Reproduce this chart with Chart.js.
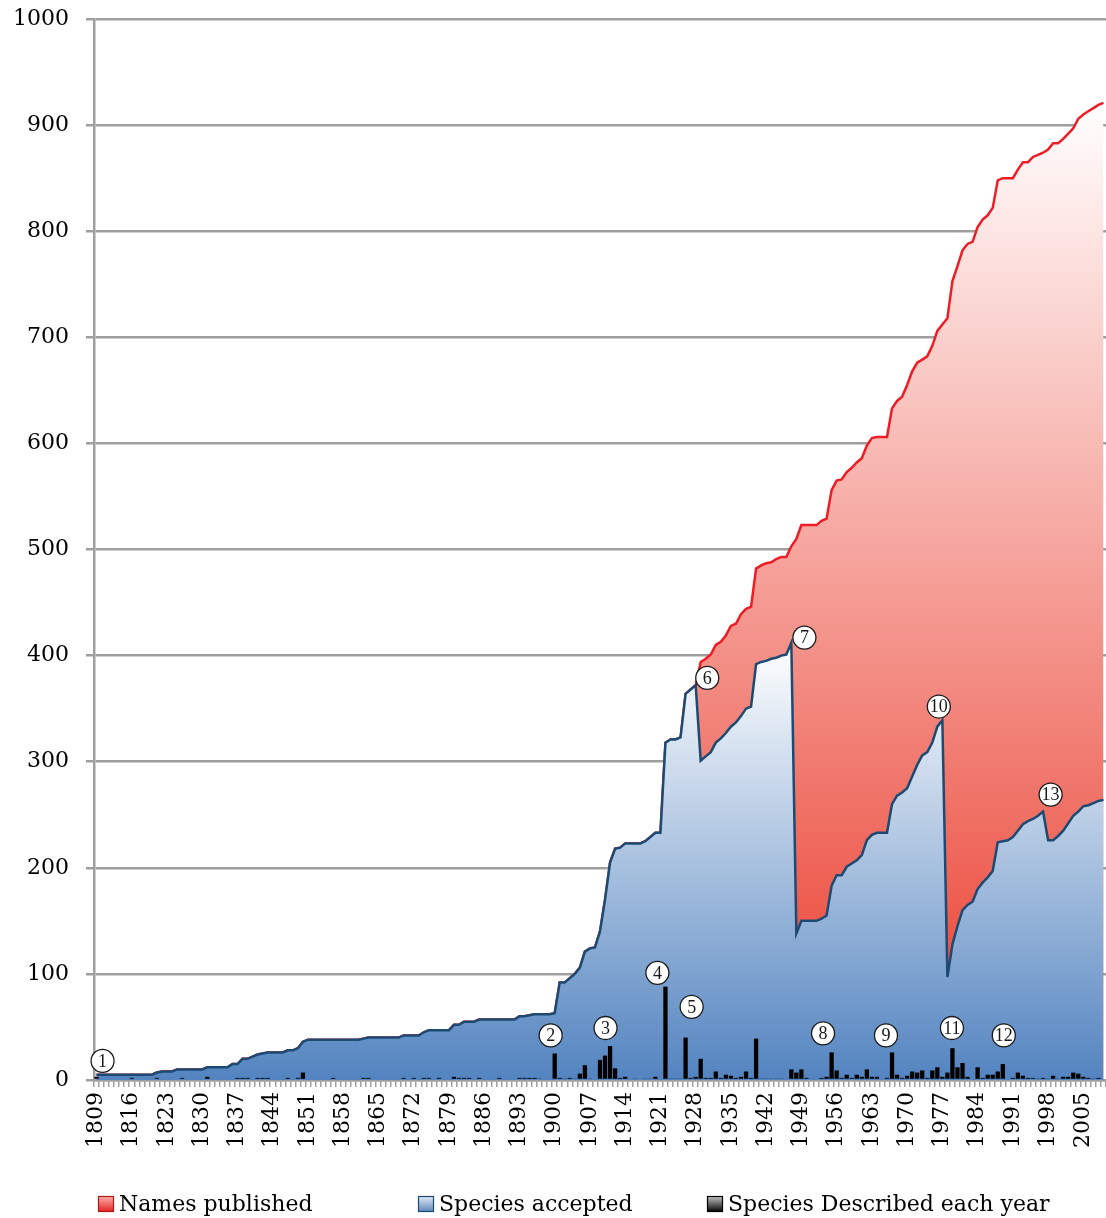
<!DOCTYPE html>
<html>
<head>
<meta charset="utf-8">
<script src="https://cdn.jsdelivr.net/npm/chart.js@4/dist/chart.umd.min.js"></script>
<style>
  html, body { margin: 0; padding: 0; background: #ffffff; overflow: hidden; }
  #wrap { width: 1106px; height: 1218px; }
</style>
</head>
<body>
<div id="wrap"><canvas id="c" width="1106" height="1218"></canvas></div>
<script>
// ---------- DATA ----------
const years = Array.from({ length: 201 }, (_, i) => 1809 + i); // 1809 .. 2009

const tickYears = [1809, 1816, 1823, 1830, 1837, 1844, 1851, 1858, 1865, 1872, 1879, 1886,
  1893, 1900, 1907, 1914, 1921, 1928, 1935, 1942, 1949, 1956, 1963, 1970, 1977, 1984,
  1991, 1998, 2005];

// Species accepted (cumulative), 1809 .. 2009
const accepted = [
  5, 5, 5, 5, 5, 5, 5, 5, 5, 5,            // 1809-1818
  5, 5, 7, 8, 8, 8, 10, 10, 10, 10,        // 1819-1828
  10, 10, 12, 12, 12, 12, 12, 15, 15, 20,  // 1829-1838
  20, 22, 24, 25, 26, 26, 26, 26, 28, 28,  // 1839-1848
  30, 36, 38, 38, 38, 38, 38, 38, 38, 38,  // 1849-1858
  38, 38, 38, 39, 40, 40, 40, 40, 40, 40,  // 1859-1868
  40, 42, 42, 42, 42, 45, 47, 47, 47, 47,  // 1869-1878
  47, 52, 52, 55, 55, 55, 57, 57, 57, 57,  // 1879-1888
  57, 57, 57, 57, 60, 60, 61, 62, 62, 62,  // 1889-1898
  62, 63, 92, 92, 96, 100, 106, 121, 124, 125,      // 1899-1908
  140, 170, 205, 218, 219, 223, 223, 223, 223, 225, // 1909-1918
  229, 233, 233, 318, 321, 321, 323, 364, 368, 372, // 1919-1928
  301, 305, 309, 318, 322, 327, 333, 337, 343, 350, // 1929-1938
  352, 392, 394, 395, 397, 398, 400, 401, 412, 138, // 1939-1948
  150, 150, 150, 150, 152, 155, 183, 193, 193, 201, // 1949-1958
  204, 207, 212, 226, 231, 233, 233, 233, 260, 268, // 1959-1968
  271, 275, 286, 297, 306, 309, 318, 333, 339, 97,  // 1969-1978
  128, 145, 160, 165, 168, 180, 186, 191, 197, 224, // 1979-1988
  225, 226, 229, 235, 241, 244, 246, 249, 253, 226, // 1989-1998
  226, 230, 235, 242, 249, 253, 258, 259, 261, 263, // 1999-2008
  264                                               // 2009
];

// Names published (cumulative), 1809 .. 2009 (runs under the accepted line until 1928)
const published = [
  5, 5, 5, 5, 5, 5, 5, 5, 5, 5,
  5, 5, 7, 8, 8, 8, 10, 10, 10, 10,
  10, 10, 12, 12, 12, 12, 12, 15, 15, 20,
  20, 22, 24, 25, 26, 26, 26, 26, 28, 28,
  30, 36, 38, 38, 38, 38, 38, 38, 38, 38,
  38, 38, 38, 39, 40, 40, 40, 40, 40, 40,
  40, 42, 42, 42, 42, 45, 47, 47, 47, 47,
  47, 52, 52, 55, 55, 55, 57, 57, 57, 57,
  57, 57, 57, 57, 60, 60, 61, 62, 62, 62,
  62, 63, 92, 92, 96, 100, 106, 121, 124, 125,
  140, 170, 205, 218, 219, 223, 223, 223, 223, 225,
  229, 233, 233, 318, 321, 321, 323, 364, 368, 372,
  394, 397, 401, 410, 413, 419, 428, 430, 439, 444, // 1929-1938
  446, 482, 485, 487, 488, 491, 493, 493, 503, 510, // 1939-1948
  523, 523, 523, 523, 527, 529, 556, 565, 566, 573, // 1949-1958
  577, 582, 586, 598, 605, 606, 606, 606, 633, 640, // 1959-1968
  644, 655, 668, 676, 679, 682, 692, 706, 712, 718, // 1969-1978
  753, 767, 782, 788, 790, 804, 811, 815, 822, 848, // 1979-1988
  850, 850, 850, 858, 865, 865, 870, 872, 874, 877, // 1989-1998
  883, 883, 887, 892, 897, 906, 910, 913, 916, 919, // 1999-2008
  921                                               // 2009
];

// Species described each year, 1809 .. 2009
const described = [
  3, 0, 0, 0, 0, 0, 0, 2, 0, 0,     // 1809-1818
  0, 0, 2, 0, 0, 0, 0, 2, 0, 0,     // 1819-1828
  0, 0, 3, 0, 0, 0, 0, 0, 2, 2,     // 1829-1838
  2, 0, 2, 2, 2, 0, 0, 0, 2, 0,     // 1839-1848
  2, 7, 0, 0, 0, 0, 0, 2, 0, 0,     // 1849-1858
  0, 0, 0, 2, 2, 0, 0, 0, 0, 0,     // 1859-1868
  0, 2, 0, 2, 0, 2, 2, 0, 2, 0,     // 1869-1878
  0, 3, 2, 2, 2, 0, 2, 0, 0, 0,     // 1879-1888
  2, 0, 0, 0, 2, 2, 2, 2, 1, 0,     // 1889-1898
  0, 25, 2, 1, 2, 1, 6, 14, 1, 0,   // 1899-1908
  19, 23, 32, 11, 2, 3, 0, 1, 0, 1, // 1909-1918
  1, 3, 0, 88, 1, 1, 1, 40, 2, 3,   // 1919-1928
  20, 2, 2, 8, 2, 5, 4, 2, 3, 8,    // 1929-1938
  2, 39, 1, 1, 1, 1, 1, 0, 10, 7,   // 1939-1948
  10, 2, 0, 0, 2, 3, 26, 9, 2, 5,   // 1949-1958
  2, 5, 3, 10, 3, 3, 0, 2, 26, 5,   // 1959-1968
  2, 4, 8, 7, 9, 2, 9, 12, 3, 7,    // 1969-1978
  30, 12, 16, 3, 0, 12, 2, 5, 5, 8, // 1979-1988
  15, 0, 2, 7, 4, 2, 2, 1, 2, 1,    // 1989-1998
  4, 1, 3, 3, 7, 6, 3, 2, 1, 2,     // 1999-2008
  0                                 // 2009
];

// Numbered call-outs: label, anchor year, anchor value
const annoLabels = ['1', '2', '3', '4', '5', '6', '7', '8', '9', '10', '11', '12', '13'];
const annoYears  = [1810.2, 1899.2, 1910.1, 1920.4, 1927.2, 1930.3, 1949.6, 1953.3, 1965.8, 1976.3, 1978.9, 1989.2, 1998.5];
const annoValues = [18, 42, 49, 101, 69, 379, 417, 44, 42, 352, 49, 42, 269];

const legendLabels = ['Names published', 'Species accepted', 'Species Described each year'];

// ---------- STYLE ----------
const SERIF = '"DejaVu Serif", "Liberation Serif", serif';
const NUMFONT = '"Liberation Serif", "DejaVu Serif", serif';
const GRID = '#9f9f9f';

function vGradient(chart, vTop, vBottom, cTop, cBottom) {
  const { ctx, chartArea, scales } = chart;
  if (!chartArea) return cBottom;
  const y0 = scales.y.getPixelForValue(vTop);
  const y1 = scales.y.getPixelForValue(vBottom);
  const g = ctx.createLinearGradient(0, y0, 0, y1);
  g.addColorStop(0, cTop);
  g.addColorStop(1, cBottom);
  return g;
}

const annotationPlugin = {
  id: 'callouts',
  afterDatasetsDraw(chart) {
    const { ctx, scales } = chart;
    ctx.save();
    annoLabels.forEach((lab, i) => {
      const x = scales.x.getPixelForValue(annoYears[i] - years[0]);
      const y = scales.y.getPixelForValue(annoValues[i]);
      ctx.beginPath();
      ctx.arc(x, y, 11.5, 0, Math.PI * 2);
      ctx.fillStyle = '#ffffff';
      ctx.fill();
      ctx.lineWidth = 1.3;
      ctx.strokeStyle = '#1a1a1a';
      ctx.stroke();
      ctx.fillStyle = '#1a1a1a';
      ctx.font = '18px ' + NUMFONT;
      ctx.textAlign = 'center';
      ctx.textBaseline = 'middle';
      ctx.fillText(lab, x, y + 1);
    });
    ctx.restore();
  }
};

const legendPlugin = {
  id: 'customLegend',
  afterDraw(chart) {
    const { ctx } = chart;
    const xs = [98, 418, 707];
    const yc = 1204;
    const fills = [['#fbb3b1', '#e3211c', '#b0181a'], ['#e4ecf6', '#5b86bd', '#1d4a72'], ['#c8c8c8', '#000000', '#000000']];
    ctx.save();
    legendLabels.forEach((lab, i) => {
      const x = xs[i];
      const g = ctx.createLinearGradient(0, yc - 8, 0, yc + 8);
      g.addColorStop(0, fills[i][0]);
      g.addColorStop(1, fills[i][1]);
      ctx.fillStyle = g;
      ctx.fillRect(x, yc - 8, 16, 16);
      ctx.lineWidth = 1.2;
      ctx.strokeStyle = fills[i][2];
      ctx.strokeRect(x + 0.5, yc - 7.5, 15, 15);
      ctx.fillStyle = '#000000';
      ctx.font = '22px ' + SERIF;
      ctx.textAlign = 'left';
      ctx.textBaseline = 'middle';
      ctx.fillText(lab, x + 21, yc + 1);
    });
    ctx.restore();
  }
};

new Chart(document.getElementById('c'), {
  type: 'bar',
  data: {
    labels: years,
    datasets: [
      {
        type: 'bar',
        label: legendLabels[2],
        data: described,
        backgroundColor: '#000000',
        borderWidth: 0,
        categoryPercentage: 0.85,
        barPercentage: 1.0,
        order: 0
      },
      {
        type: 'line',
        label: legendLabels[1],
        data: accepted,
        borderColor: '#1c4a72',
        borderWidth: 2.5,
        pointRadius: 0,
        tension: 0,
        fill: 'origin',
        backgroundColor: (c) => vGradient(c.chart, 412, 0, '#ffffff', '#5384c0'),
        order: 1
      },
      {
        type: 'line',
        label: legendLabels[0],
        data: published,
        borderColor: '#ee1c25',
        borderWidth: 2.5,
        pointRadius: 0,
        tension: 0,
        fill: 'origin',
        backgroundColor: (c) => vGradient(c.chart, 921, 0, '#ffffff', '#ea3a2a'),
        order: 2
      }
    ]
  },
  options: {
    responsive: false,
    animation: false,
    events: [],
    layout: { padding: { top: 19, right: 0, bottom: 66, left: 0 } },
    plugins: { legend: { display: false }, tooltip: { enabled: false } },
    scales: {
      x: {
        offset: true,
        grid: { display: true, drawOnChartArea: false, drawTicks: true, tickLength: 7, color: GRID, lineWidth: 1.5, offset: true },
        border: { display: true, color: GRID, width: 2.5 },
        ticks: {
          autoSkip: false, maxRotation: 90, minRotation: 90, padding: 5,
          color: '#000000', font: { family: SERIF, size: 22 },
          callback: function (v, i) { return tickYears.includes(years[i]) ? String(years[i]) : ''; }
        },
        afterFit: (s) => { s.height = 72; s.paddingLeft = 0; s.paddingRight = 0; }
      },
      y: {
        min: 0, max: 1000,
        grid: { color: GRID, lineWidth: 2.5, tickLength: 8, drawTicks: true },
        border: { display: true, color: GRID, width: 2.5 },
        ticks: {
          stepSize: 100, padding: 17, color: '#000000', font: { family: SERIF, size: 22 },
          callback: (v) => String(v)
        },
        afterFit: (s) => { s.width = 94; s.paddingTop = 0; s.paddingBottom = 0; }
      }
    }
  },
  plugins: [annotationPlugin, legendPlugin]
});
</script>
</body>
</html>
